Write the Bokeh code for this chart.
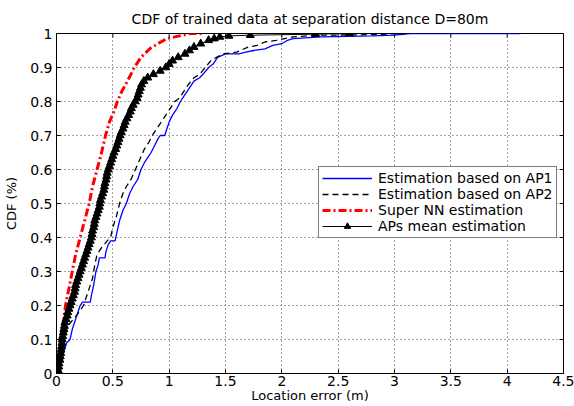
import math
from bokeh.plotting import figure
from bokeh.models import Range1d, FixedTicker, Legend, LegendItem
from bokeh.embed import file_html
from bokeh.resources import INLINE

# ---------------- data ----------------
title_text = "CDF of trained data at separation distance D=80m"
x_label = "Location error (m)"
y_label = "CDF (%)"

x_ticks = [0, 0.5, 1, 1.5, 2, 2.5, 3, 3.5, 4, 4.5]
x_tick_labels = ["0", "0.5", "1", "1.5", "2", "2.5", "3", "3.5", "4", "4.5"]
y_ticks = [0, 0.1, 0.2, 0.3, 0.4, 0.5, 0.6, 0.7, 0.8, 0.9, 1]
y_tick_labels = ["0", "0.1", "0.2", "0.3", "0.4", "0.5", "0.6", "0.7", "0.8", "0.9", "1"]

series_names = ["Estimation based on AP1", "Estimation based on AP2",
                "Super NN estimation", "APs mean estimation"]

ap1_x = [0.01, 0.03, 0.05, 0.07, 0.09, 0.12, 0.14, 0.16, 0.19, 0.21, 0.23, 0.30,
         0.31, 0.33, 0.35, 0.37, 0.38, 0.43, 0.44, 0.46, 0.48, 0.52, 0.54, 0.56,
         0.59, 0.62, 0.65, 0.68, 0.72, 0.75, 0.78, 0.82, 0.84, 0.87, 0.90, 0.92,
         0.96, 0.98, 1.00, 1.03, 1.07, 1.10, 1.14, 1.18, 1.22, 1.27, 1.30, 1.35,
         1.39, 1.43, 1.50, 1.62, 1.68, 1.75, 1.85, 1.92, 2.00, 2.05, 2.10, 2.35,
         2.80, 3.00, 3.14, 4.12]
ap1_y = [0.0, 0.03, 0.04, 0.07, 0.09, 0.10, 0.13, 0.15, 0.18, 0.20, 0.21, 0.21,
         0.23, 0.26, 0.30, 0.32, 0.34, 0.34, 0.36, 0.38, 0.39, 0.39, 0.42, 0.45,
         0.48, 0.50, 0.53, 0.55, 0.57, 0.60, 0.62, 0.64, 0.65, 0.67, 0.69, 0.70,
         0.70, 0.72, 0.74, 0.76, 0.78, 0.80, 0.82, 0.84, 0.86, 0.87, 0.88, 0.90,
         0.91, 0.93, 0.94, 0.94, 0.945, 0.95, 0.955, 0.965, 0.97, 0.98, 0.985, 0.99,
         0.993, 0.995, 1.0, 1.0]

ap2_x = [0.02, 0.04, 0.07, 0.10, 0.15, 0.20, 0.24, 0.27, 0.30, 0.32, 0.34, 0.36,
         0.40, 0.45, 0.48, 0.50, 0.53, 0.56, 0.59, 0.62, 0.66, 0.70, 0.74, 0.78,
         0.82, 0.85, 0.89, 0.93, 0.97, 1.01, 1.05, 1.09, 1.13, 1.17, 1.22, 1.27,
         1.32, 1.37, 1.42, 1.48, 1.60, 1.70, 1.78, 1.85, 1.95, 2.10, 2.30, 2.70,
         3.10]
ap2_y = [0.0, 0.05, 0.10, 0.14, 0.16, 0.18, 0.20, 0.23, 0.26, 0.28, 0.32, 0.35,
         0.37, 0.39, 0.40, 0.43, 0.46, 0.50, 0.53, 0.55, 0.57, 0.60, 0.63, 0.66,
         0.68, 0.70, 0.72, 0.74, 0.76, 0.78, 0.80, 0.81, 0.83, 0.85, 0.87, 0.88,
         0.90, 0.92, 0.93, 0.94, 0.945, 0.96, 0.965, 0.975, 0.98, 0.99, 0.995, 0.996,
         1.0]

nn_x = [0.0, 0.02, 0.04, 0.06, 0.08, 0.11, 0.14, 0.17, 0.21, 0.25, 0.29, 0.32,
        0.36, 0.40, 0.435, 0.47, 0.51, 0.54, 0.58, 0.63, 0.69, 0.75, 0.83, 0.90,
        0.98, 1.05, 1.19, 1.30]
nn_y = [0.0, 0.05, 0.10, 0.15, 0.20, 0.25, 0.30, 0.35, 0.40, 0.45, 0.50, 0.55,
        0.60, 0.65, 0.70, 0.74, 0.77, 0.80, 0.83, 0.86, 0.90, 0.93, 0.956, 0.97,
        0.985, 0.99, 1.0, 1.0]

mean_x = [0.01, 0.015, 0.02, 0.022, 0.03, 0.033, 0.037, 0.04, 0.045, 0.048,
          0.05, 0.055, 0.06, 0.065, 0.07, 0.075, 0.085, 0.095, 0.10, 0.11,
          0.12, 0.13, 0.14, 0.15, 0.16, 0.165, 0.17, 0.18, 0.19, 0.20,
          0.21, 0.22, 0.23, 0.24, 0.25, 0.26, 0.27, 0.28, 0.29, 0.30,
          0.31, 0.315, 0.32, 0.33, 0.335, 0.34, 0.35, 0.36, 0.37, 0.38,
          0.385, 0.39, 0.40, 0.41, 0.42, 0.425, 0.43, 0.44, 0.445, 0.45,
          0.46, 0.47, 0.48, 0.49, 0.50, 0.51, 0.525, 0.535, 0.545, 0.555,
          0.565, 0.575, 0.59, 0.60, 0.61, 0.625, 0.64, 0.655, 0.665, 0.68,
          0.70, 0.715, 0.725, 0.735, 0.745, 0.755, 0.775, 0.81, 0.86, 0.92,
          0.97, 1.00, 1.03, 1.08, 1.14, 1.18, 1.22, 1.28, 1.35, 1.40,
          1.45, 1.53, 1.72, 2.30, 2.60]
mean_y = [0.00, 0.01, 0.02, 0.03, 0.04, 0.05, 0.06, 0.07, 0.08, 0.09,
          0.10, 0.11, 0.12, 0.13, 0.14, 0.15, 0.16, 0.17, 0.18, 0.19,
          0.20, 0.21, 0.22, 0.23, 0.24, 0.25, 0.26, 0.27, 0.28, 0.29,
          0.30, 0.31, 0.32, 0.33, 0.34, 0.35, 0.36, 0.37, 0.38, 0.39,
          0.40, 0.41, 0.42, 0.43, 0.44, 0.45, 0.46, 0.47, 0.48, 0.49,
          0.50, 0.51, 0.52, 0.53, 0.54, 0.55, 0.56, 0.57, 0.58, 0.59,
          0.60, 0.61, 0.62, 0.63, 0.64, 0.65, 0.66, 0.67, 0.68, 0.69,
          0.70, 0.71, 0.72, 0.73, 0.74, 0.75, 0.76, 0.77, 0.78, 0.79,
          0.80, 0.81, 0.82, 0.83, 0.84, 0.85, 0.86, 0.87, 0.88, 0.89,
          0.90, 0.91, 0.92, 0.93, 0.94, 0.95, 0.96, 0.97, 0.98, 0.985,
          0.99, 0.993, 0.995, 0.998, 1.0]

# ---------------- figure ----------------
FONT = "DejaVu Sans"
X_MIN, X_MAX = x_ticks[0], x_ticks[-1]
Y_MIN, Y_MAX = y_ticks[0], y_ticks[-1]

p = figure(width=574, height=406, output_backend="svg", toolbar_location=None,
           x_range=Range1d(X_MIN, X_MAX), y_range=Range1d(Y_MIN, Y_MAX),
           min_border_left=56, min_border_right=11,
           min_border_top=33, min_border_bottom=33,
           title=title_text)

p.title.align = "center"
p.title.text_font = FONT
p.title.text_font_size = "14px"
p.title.text_font_style = "normal"
p.title.text_color = "black"
p.title.standoff = 13

p.outline_line_color = "black"
p.outline_line_width = 1
p.outline_line_alpha = 1
p.background_fill_color = "white"
p.border_fill_color = "white"

xt = FixedTicker(ticks=x_ticks)
yt = FixedTicker(ticks=y_ticks)

xa = p.xaxis[0]
ya = p.yaxis[0]
xa.ticker = xt
ya.ticker = yt
xa.major_label_overrides = {t: s for t, s in zip(x_ticks, x_tick_labels)}
ya.major_label_overrides = {t: s for t, s in zip(y_ticks, y_tick_labels)}
xa.axis_label = x_label
ya.axis_label = y_label

for ax in (xa, ya):
    ax.major_tick_in = 4
    ax.major_tick_out = 0
    ax.minor_tick_line_color = None
    ax.axis_line_color = "black"
    ax.major_tick_line_color = "black"
    ax.major_label_text_font = FONT
    ax.major_label_text_font_size = "14px"
    ax.major_label_text_color = "black"
    ax.axis_label_text_font = FONT
    ax.axis_label_text_font_style = "normal"
    ax.axis_label_text_color = "black"
    ax.axis_label_text_font_size = "13px"

xa.major_label_standoff = 2
xa.axis_label_standoff = -1
ya.major_label_standoff = 4
ya.axis_label_standoff = 8

p.xgrid[0].ticker = xt
p.ygrid[0].ticker = yt
for g in (p.xgrid[0], p.ygrid[0]):
    g.grid_line_color = "#444444"
    g.grid_line_dash = "1 3"
    g.grid_line_width = 1

# inward ticks on the top and right edges of the box
p.scatter(x_ticks, [Y_MAX] * len(x_ticks), marker="dash", size=8, angle=math.pi / 2,
          line_color="black", line_width=1)
p.scatter([X_MAX] * len(y_ticks), y_ticks, marker="dash", size=8,
          line_color="black", line_width=1)

# ---------------- series ----------------
r_ap1 = p.line(ap1_x, ap1_y, line_color="#0000ff", line_width=1.3)
r_ap2 = p.line(ap2_x, ap2_y, line_color="black", line_width=1.3, line_dash="6 4")
r_nn = p.line(nn_x, nn_y, line_color="#ff0000", line_width=3, line_dash="8 3 2 3")
r_mean_l = p.line(mean_x, mean_y, line_color="black", line_width=1)
r_mean_m = p.scatter(mean_x, mean_y, marker="triangle", size=8,
                     fill_color="black", line_color="black")

legend = Legend(items=[
    LegendItem(label=series_names[0], renderers=[r_ap1]),
    LegendItem(label=series_names[1], renderers=[r_ap2]),
    LegendItem(label=series_names[2], renderers=[r_nn]),
    LegendItem(label=series_names[3], renderers=[r_mean_l, r_mean_m]),
], location=(262, 135))
legend.label_text_font = FONT
legend.label_text_font_size = "14px"
legend.label_text_color = "black"
legend.glyph_width = 50
legend.glyph_height = 16
legend.label_height = 16
legend.label_standoff = 6
legend.spacing = 0
legend.padding = 3
legend.margin = 0
legend.border_line_color = "black"
legend.border_line_width = 1
legend.background_fill_color = "white"
legend.background_fill_alpha = 1
p.add_layout(legend)

open("out.html", "w").write(file_html(p, INLINE))
